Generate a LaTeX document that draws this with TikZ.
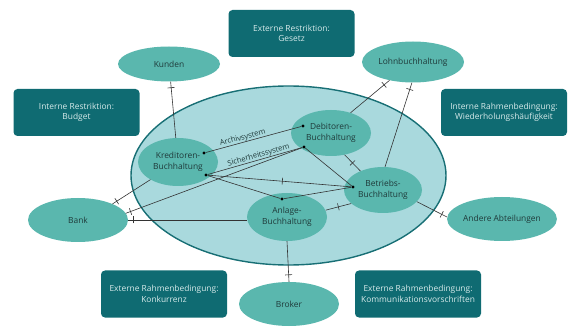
\documentclass[tikz,border=0pt]{standalone}
\usepackage{fontspec}
\setmainfont{Open Sans}
\usetikzlibrary{shapes.geometric,decorations.markings}
\definecolor{boxteal}{HTML}{0F6B72}
\definecolor{nodeteal}{HTML}{5AB7AE}
\definecolor{areafill}{HTML}{A9D9DD}
\definecolor{arearim}{HTML}{186F75}
\definecolor{boxtext}{HTML}{D6EAEA}
\definecolor{nodetext}{HTML}{1F3A3A}
\definecolor{wire}{HTML}{333333}
\tikzset{
  infobox/.style={rectangle, rounded corners=4pt, fill=boxteal, text=boxtext,
    minimum width=126pt, minimum height=47pt, align=center,
    font=\fontsize{8.4}{10.5}\selectfont},
  unit/.style={ellipse, fill=nodeteal, text=nodetext, inner sep=0pt,
    minimum width=#1, align=center, font=\fontsize{8.4}{10.5}\selectfont},
  unit/.default=80pt,
  joint/.style={circle, fill=black, inner sep=0pt, minimum size=3.2pt},
  wireline/.style={draw=wire, line width=0.6pt},
  bar/.style={postaction={decorate, decoration={markings,
    mark=at position #1 with {\draw[wire, line width=0.6pt] (0,-3.5pt) -- (0,3.5pt);}}}},
  tag/.style={sloped, above, inner sep=0.4pt, text=nodetext,
    font=\fontsize{7.6}{8}\selectfont}
}
\begin{document}
\begin{tikzpicture}[x=1pt,y=1pt]
\useasboundingbox (0,0) rectangle (568,327);

% company area
\node[ellipse, fill=areafill, draw=arearim, line width=1.4pt,
  minimum width=315pt, minimum height=179pt, inner sep=0pt] (area) at (288.5,151.5) {};

% restrictions and framework conditions
\node[infobox] (gesetz) at (291.5,293.5) {Externe Restriktion:\\Gesetz};
\node[infobox] (budget) at (76.5,214.5) {Interne Restriktion:\\Budget};
\node[infobox] (wdh) at (504,214.5) {Interne Rahmenbedingung:\\Wiederholungshäufigkeit};
\node[infobox] (konk) at (164,33) {Externe Rahmenbedingung:\\Konkurrenz};
\node[infobox] (komm) at (418,33) {Externe Rahmenbedingung:\\Kommunikationsvorschriften};

% external partners
\node[unit=102pt, minimum height=35pt] (kunden) at (169,263) {Kunden};
\node[unit=102pt, minimum height=41pt] (lohn) at (413,265) {Lohnbuchhaltung};
\node[unit=100pt, minimum height=44pt] (bank) at (78,107) {Bank};
\node[unit=100pt, minimum height=44pt] (andere) at (502,108) {Andere Abteilungen};
\node[unit=100pt, minimum height=44pt] (broker) at (289,23) {Broker};

% internal departments
\node[unit=80pt, minimum height=48pt] (kred) at (178,165) {Kreditoren-\\Buchhaltung};
\node[unit=80pt, minimum height=46pt] (debit) at (331,194) {Debitoren-\\Buchhaltung};
\node[unit=78pt, minimum height=46pt] (betr) at (383,137) {Betriebs-\\Buchhaltung};
\node[unit=80pt, minimum height=48pt] (anlage) at (287,110) {Anlage-\\Buchhaltung};

% connection points
\node[joint] (kA) at (204,174) {};
\node[joint] (dA) at (303,201) {};
\node[joint] (kS) at (206,152) {};
\node[joint] (dS) at (304,180) {};
\node[joint] (bD) at (353,140) {};
\node[joint] (aD) at (282,128) {};

% internal systems
\draw[wireline] (kA) -- node[tag, pos=0.40] {Archivsystem} (dA);
\draw[wireline] (kS) -- node[tag, pos=0.55] {Sicherheitssystem} (dS);
\draw[wireline, bar=0.52] (kS) -- (bD);
\draw[wireline] (kS) -- (aD);
\draw[wireline] (aD) -- (bD);
\draw[wireline] (dS) -- (bD);
\draw[wireline, bar=0.5] (debit.-58) -- (betr.140);
\draw[wireline, bar=0.5] (anlage.10) -- (betr.203);

% interfaces to the outside
\draw[wireline, bar=6pt] (kunden) -- (kred);
\draw[wireline, bar=5pt] (bank.25) -- (kred);
\draw[wireline, bar=5pt] (bank.8) -- (dS);
\draw[wireline, bar=5pt] (bank.east) -- (bank.east -| anlage.west);
\draw[wireline, bar=-7pt] (anlage.south) -- (broker.north);
\draw[wireline, bar=-6pt] (betr.-19) -- (andere.178);
\draw[wireline, bar=-7pt] (betr.85) -- (lohn.-93);
\draw[wireline, bar=-7pt] (debit.46) -- (lohn.218);
\end{tikzpicture}
\end{document}
